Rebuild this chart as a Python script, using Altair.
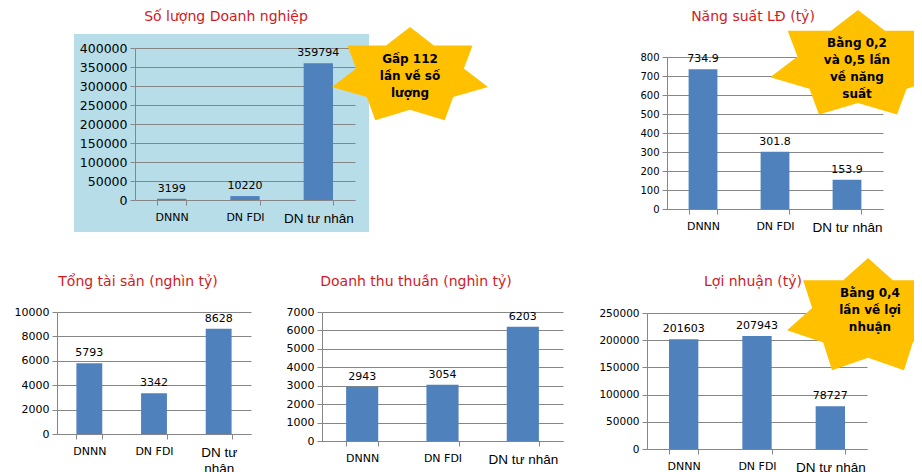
import math
import altair as alt
import pandas as pd

# ---------------- data ----------------
cats = ["DNNN", "DN FDI", "DN tư nhân"]
so_luong = [3199, 10220, 359794]
nang_suat = [734.9, 301.8, 153.9]
tong_tai_san = [5793, 3342, 8628]
doanh_thu = [2943, 3054, 6203]
loi_nhuan = [201603, 207943, 78727]

titles = [
    "Số lượng Doanh nghiệp",
    "Năng suất LĐ (tỷ)",
    "Tổng tài sản (nghìn tỷ)",
    "Doanh thu thuần (nghìn tỷ)",
    "Lợi nhuận (tỷ)",
]
ticks_sl = [0, 50000, 100000, 150000, 200000, 250000, 300000, 350000, 400000]
ticks_ns = [0, 100, 200, 300, 400, 500, 600, 700, 800]
ticks_ts = [0, 2000, 4000, 6000, 8000, 10000]
ticks_dt = [0, 1000, 2000, 3000, 4000, 5000, 6000, 7000]
ticks_ln = [0, 50000, 100000, 150000, 200000, 250000]

star_texts = [
    "Gấp 112\nlần về số\nlượng",
    "Bằng 0,2\nvà 0,5  lần\nvề năng\nsuất",
    "Bằng 0,4\nlần về lợi\nnhuận",
]

# ---------------- style ----------------
BLUE = "#4F81BD"
GRID = "#868686"
RED = "#D01A1F"
GOLD = "#FFC000"
BG = "#B7DDE8"
FONT = "DejaVu Sans"


def star_path(ratio, inner=0.69, n=7):
    pts = []
    for k in range(2 * n):
        ang = math.pi / 2 - k * math.pi / n
        r = 1.0 if k % 2 == 0 else inner
        pts.append((r * math.cos(ang), -r * math.sin(ang) * ratio))
    return "M" + "L".join(f"{x:.4f},{y:.4f}" for x, y in pts) + "Z"


def panel(values, title, ticks, ymax, w, h, xr, yr, yoff, xoff, ylab, fmt,
          tpos, star=None, bg=False, wrap=False):
    df = pd.DataFrame({"cat": cats, "v": values})
    xaxis_kw = dict(
        title=None, tickBand="extent", labelAngle=0, domainColor=GRID,
        tickColor=GRID, tickSize=5, labelPadding=6, labelColor="black",
        labelFont={"condition": {"test": "datum.value === 'DN tư nhân'", "value": "Liberation Sans"}, "value": FONT},
        labelFontSize={"condition": {"test": "datum.value === 'DN tư nhân'", "value": 13.5}, "value": 11},
        grid=False, offset=xoff,
    )
    if wrap:
        xaxis_kw["labelExpr"] = "datum.value === 'DN tư nhân' ? ['DN tư', 'nhân'] : datum.value"
        xaxis_kw["labelLineHeight"] = 16
    x = alt.X("cat:N", sort=cats,
              scale=alt.Scale(range=xr, paddingInner=0.6, paddingOuter=0.3),
              axis=alt.Axis(**xaxis_kw))
    y = alt.Y("v:Q",
              scale=alt.Scale(domain=[0, ymax], range=yr, nice=False, zero=True),
              axis=alt.Axis(title=None, values=ticks, format="d", grid=True,
                            gridColor=GRID, domainColor=GRID, tickColor=GRID,
                            tickSize=5, labelPadding=3, labelColor="black",
                            labelFont=FONT, labelFontSize=ylab, offset=yoff))
    base = alt.Chart(df)
    bars = base.mark_bar(color=BLUE).encode(x=x, y=y)
    labels = base.mark_text(font=FONT, fontSize=11, color="black",
                            baseline="alphabetic", dy=-7).encode(
        x=x, y=y, text=alt.Text("v:Q", format=fmt))
    ttl = alt.Chart(pd.DataFrame({"t": [title]})).mark_text(
        font=FONT, fontSize=14, color=RED, align="center", baseline="middle"
    ).encode(text="t:N", x=alt.value(tpos[0]), y=alt.value(tpos[1]))
    layers = [bars, labels, ttl]
    if star is not None:
        sx, sy, rx, ry, txt, tx, ty = star
        st = alt.Chart(pd.DataFrame({"s": [txt]}))
        layers.append(st.mark_point(shape=star_path(ry / rx), size=(2 * rx) ** 2,
                                    filled=True, fill=GOLD, opacity=1,
                                    strokeWidth=0).encode(x=alt.value(sx), y=alt.value(sy)))
        # ty is the position of the first text line
        layers.append(st.mark_text(font=FONT, fontWeight="bold", fontSize=12,
                                   lineBreak="\n", lineHeight=17, align="center",
                                   baseline="middle", color="black").encode(
            text="s:N", x=alt.value(tx), y=alt.value(ty)))
    ch = alt.layer(*layers).properties(width=w, height=h)
    if bg:
        ch = ch.properties(view=alt.ViewBackground(fill=BG, strokeWidth=0))
    return ch


# column 0 starts at page x 74, column 1 at 379, column 2 at 573
p1 = panel(so_luong, titles[0], ticks_sl, 400000, 295, 198, [61, 281], [166, 14],
           -61, -32, 12.5, "d", (152, -17),
           star=(336, 42, 80, 49, star_texts[0], 336, 25), bg=True)
ph = alt.Chart(pd.DataFrame({"a": [0]})).mark_point(opacity=0).encode(
    x=alt.value(0), y=alt.value(0)).properties(width=1, height=1)
p2 = panel(nang_suat, titles[1], ticks_ns, 800, 310, 175, [94, 310], [175, 23],
           -94, 0, 10, ".1f", (180, -17),
           star=(285, 31, 90, 55, star_texts[1], 284, 9))
p3 = panel(tong_tai_san, titles[2], ticks_ts, 10000, 177, 122, [-17, 177], [122, 0],
           17, 0, 11, "d", (64, -30), wrap=True)
p4 = panel(doanh_thu, titles[3], ticks_dt, 7000, 184, 129, [-57, 184], [129, 0],
           57, 0, 11, "d", (37, -30))
p5 = panel(loi_nhuan, titles[4], ticks_ln, 250000, 294, 137, [74, 294], [137, 1],
           -74, 0, 10.5, "d", (180, -30),
           star=(295, 5, 83, 59, star_texts[2], 297, -19))

chart = alt.concat(
    p1, ph, p2, p3, p4, p5, columns=3,
    spacing={"row": 80, "column": 10},
    align="each",
    bounds="flush",
).properties(
    autosize=alt.AutoSizeParams(type="none"),
    padding={"left": 66, "top": 26, "right": 840, "bottom": 438},
).configure_view(strokeWidth=0)

chart.save("out.html", embed_options={"renderer": "svg", "actions": False})
